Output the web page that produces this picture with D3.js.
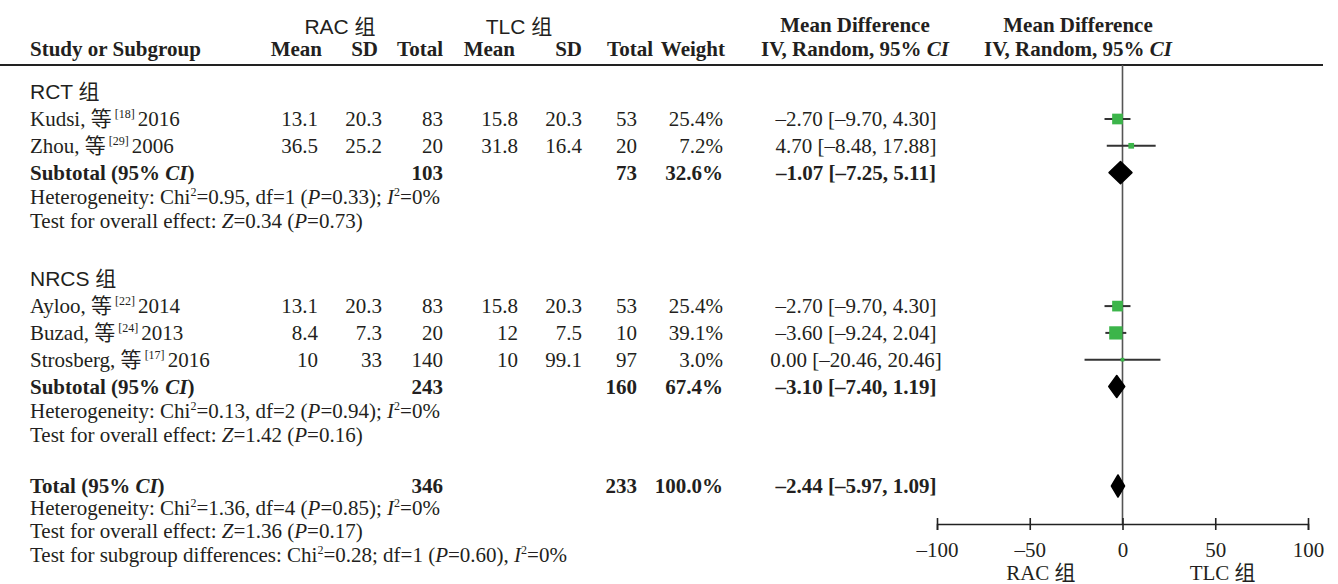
<!DOCTYPE html>
<html><head><meta charset="utf-8">
<script src="https://cdn.jsdelivr.net/npm/d3@7"></script>
<style>
html,body{margin:0;padding:0;background:#fff;}
svg{display:block;}
text{white-space:pre;}
</style></head><body>
<svg id="c" width="1338" height="584"></svg>
<script>
// ---------------- data ----------------
const groupNames   = ["RCT 组", "NRCS 组"];
const studyNames   = ["Kudsi, 等", "Zhou, 等", "Ayloo, 等", "Buzad, 等", "Strosberg, 等"];
const studyRefs    = ["[18]", "[29]", "[22]", "[24]", "[17]"];
const studyYears   = ["2016", "2006", "2014", "2013", "2016"];
const studyGroup   = [0, 0, 1, 1, 1];
const racMean      = [13.1, 36.5, 13.1, 8.4, 10];
const racSD        = [20.3, 25.2, 20.3, 7.3, 33];
const racTotal     = [83, 20, 83, 20, 140];
const tlcMean      = [15.8, 31.8, 15.8, 12, 10];
const tlcSD        = [20.3, 16.4, 20.3, 7.5, 99.1];
const tlcTotal     = [53, 20, 53, 10, 97];
const studyWeight  = [25.4, 7.2, 25.4, 39.1, 3.0];
const studyMD      = [-2.70, 4.70, -2.70, -3.60, 0.00];
const studyLow     = [-9.70, -8.48, -9.70, -9.24, -20.46];
const studyHigh    = [4.30, 17.88, 4.30, 2.04, 20.46];

const subRacTotal  = [103, 243];
const subTlcTotal  = [73, 160];
const subWeight    = [32.6, 67.4];
const subMD        = [-1.07, -3.10];
const subLow       = [-7.25, -7.40];
const subHigh      = [5.11, 1.19];
const subChi2      = ["0.95", "0.13"];
const subDf        = [1, 2];
const subHetP      = ["0.33", "0.94"];
const subI2        = [0, 0];
const subZ         = ["0.34", "1.42"];
const subZP        = ["0.73", "0.16"];

const totRacTotal  = 346;
const totTlcTotal  = 233;
const totWeight    = 100.0;
const totMD        = -2.44, totLow = -5.97, totHigh = 1.09;
const totChi2      = "1.36", totDf = 4, totHetP = "0.85", totI2 = 0;
const totZ         = "1.36", totZP = "0.17";
const diffChi2     = "0.28", diffDf = 1, diffP = "0.60", diffI2 = 0;

const axisTicks    = [-100, -50, 0, 50, 100];
const favourLabels = ["RAC 组", "TLC 组"];

// ---------------- drawing ----------------
const svg = d3.select("#c");
const SERIF = '"Liberation Serif","Times New Roman","Noto Sans CJK SC",serif';
const SANS  = '"Liberation Sans",Arial,"Noto Sans CJK SC",sans-serif';
const FS = 21;
const INK = "#231f20";

function rich(x, y, segs, opts = {}) {
  const t = svg.append("text").attr("x", x).attr("y", y)
    .attr("font-family", opts.family || SERIF)
    .attr("font-size", opts.size || FS)
    .attr("fill", INK)
    .attr("text-anchor", opts.anchor || "start")
    .attr("font-weight", opts.bold ? "bold" : "normal");
  let shifted = false;
  segs.forEach(s => {
    if (typeof s === "string") s = {t: s};
    const ts = t.append("tspan").text(s.t);
    if (s.i) ts.attr("font-style", "italic");
    if (s.sup) { ts.attr("font-size", 12).attr("dy", shifted ? 0 : -8); shifted = true; }
    else if (shifted) { ts.attr("dy", 8); shifted = false; }
  });
  return t;
}
const num = v => String(v);
const sgn = v => (v < 0 ? "–" : "") + d3.format(".2f")(Math.abs(v));
const mdText = (m, l, h) => `${sgn(m)} [${sgn(l)}, ${sgn(h)}]`;
const pct = v => d3.format(".1f")(v) + "%";

// columns
const COL = {left: 30, racMean: 318, racSD: 382, racTotal: 443, tlcMean: 518, tlcSD: 582, tlcTotal: 637, weight: 723, md: 856};

// scales
const x = d3.scaleLinear().domain([-100, 100]).range([937, 1308]);
const sz = d3.scaleSqrt().domain([0, 40]).range([0, 13.4]);
const axisY = 524, topLine = 65;

// header
rich(340, 34, ["RAC 组"], {family: SANS, anchor: "middle"});
rich(519, 34, ["TLC 组"], {family: SANS, anchor: "middle"});
rich(855, 32, ["Mean Difference"], {anchor: "middle", bold: true});
rich(1078, 32, ["Mean Difference"], {anchor: "middle", bold: true});
rich(COL.left, 56, ["Study or Subgroup"], {bold: true});
rich(322, 56, ["Mean"], {bold: true, anchor: "end"});
rich(378, 56, ["SD"], {bold: true, anchor: "end"});
rich(443, 56, ["Total"], {bold: true, anchor: "end"});
rich(515, 56, ["Mean"], {bold: true, anchor: "end"});
rich(582, 56, ["SD"], {bold: true, anchor: "end"});
rich(653, 56, ["Total"], {bold: true, anchor: "end"});
rich(725, 56, ["Weight"], {bold: true, anchor: "end"});
rich(855, 56, ["IV, Random, 95% ", {t: "CI", i: true}], {bold: true, anchor: "middle"});
rich(1078, 56, ["IV, Random, 95% ", {t: "CI", i: true}], {bold: true, anchor: "middle"});

svg.append("line").attr("x1", 0).attr("x2", 1323).attr("y1", topLine).attr("y2", topLine)
  .attr("stroke", "#222").attr("stroke-width", 2);

// zero line
svg.append("line").attr("x1", x(0)).attr("x2", x(0)).attr("y1", topLine).attr("y2", axisY)
  .attr("stroke", "#555").attr("stroke-width", 1.6);

const plot = svg.append("g");
function square(y, m, l, h, w) {
  plot.append("line").attr("x1", x(l)).attr("x2", x(h)).attr("y1", y).attr("y2", y)
    .attr("stroke", "#333").attr("stroke-width", 2);
  const s = Math.max(sz(w), 3);
  plot.append("rect").attr("x", x(m) - s / 2).attr("y", y - s / 2).attr("width", s).attr("height", s)
    .attr("fill", "#3cb54a");
}
function diamond(y, m, l, h) {
  const hh = 11;
  plot.append("path")
    .attr("d", `M${x(l)},${y}L${x(m)},${y - hh}L${x(h)},${y}L${x(m)},${y + hh}Z`)
    .attr("fill", "#000").attr("stroke", "#000").attr("stroke-width", 1.5).attr("stroke-linejoin", "round");
}

function hetLine(y, chi, df, p, i2, sep1, sep2) {
  rich(COL.left, y, ["Heterogeneity: Chi", {t: "2", sup: true}, `=${chi}${sep1} df=${df} (`, {t: "P", i: true},
    `=${p})${sep2} `, {t: "I", i: true}, {t: "2", sup: true}, `=${i2}%`]);
}
function testLine(y, z, p) {
  rich(COL.left, y, ["Test for overall effect: ", {t: "Z", i: true}, `=${z} (`, {t: "P", i: true}, `=${p})`]);
}

let y = 99;
groupNames.forEach((g, gi) => {
  rich(COL.left, y, [g], {family: SANS});
  y += 27;
  studyNames.forEach((n, i) => {
    if (studyGroup[i] !== gi) return;
    rich(COL.left, y, [n, {t: " " + studyRefs[i] + " ", sup: true}, studyYears[i]]);
    rich(COL.racMean, y, [num(racMean[i])], {anchor: "end"});
    rich(COL.racSD, y, [num(racSD[i])], {anchor: "end"});
    rich(COL.racTotal, y, [num(racTotal[i])], {anchor: "end"});
    rich(COL.tlcMean, y, [num(tlcMean[i])], {anchor: "end"});
    rich(COL.tlcSD, y, [num(tlcSD[i])], {anchor: "end"});
    rich(COL.tlcTotal, y, [num(tlcTotal[i])], {anchor: "end"});
    rich(COL.weight, y, [pct(studyWeight[i])], {anchor: "end"});
    rich(COL.md, y, [mdText(studyMD[i], studyLow[i], studyHigh[i])], {anchor: "middle"});
    square(y - 7, studyMD[i], studyLow[i], studyHigh[i], studyWeight[i]);
    y += 26.8;
  });
  rich(COL.left, y, ["Subtotal (95% ", {t: "CI", i: true}, ")"], {bold: true});
  rich(COL.racTotal, y, [num(subRacTotal[gi])], {anchor: "end", bold: true});
  rich(COL.tlcTotal, y, [num(subTlcTotal[gi])], {anchor: "end", bold: true});
  rich(COL.weight, y, [pct(subWeight[gi])], {anchor: "end", bold: true});
  rich(COL.md, y, [mdText(subMD[gi], subLow[gi], subHigh[gi])], {anchor: "middle", bold: true});
  diamond(y - 7, subMD[gi], subLow[gi], subHigh[gi]);
  y += 24.5;
  hetLine(y, subChi2[gi], subDf[gi], subHetP[gi], subI2[gi], ",", ";");
  y += 24;
  testLine(y, subZ[gi], subZP[gi]);
  y += (gi < groupNames.length - 1) ? 58 : 51;
});

// total
rich(COL.left, y, ["Total (95% ", {t: "CI", i: true}, ")"], {bold: true});
rich(COL.racTotal, y, [num(totRacTotal)], {anchor: "end", bold: true});
rich(COL.tlcTotal, y, [num(totTlcTotal)], {anchor: "end", bold: true});
rich(COL.weight, y, [pct(totWeight)], {anchor: "end", bold: true});
rich(COL.md, y, [mdText(totMD, totLow, totHigh)], {anchor: "middle", bold: true});
diamond(y - 7, totMD, totLow, totHigh);
y += 22;
hetLine(y, totChi2, totDf, totHetP, totI2, ",", ";");
y += 23;
testLine(y, totZ, totZP);
y += 24;
rich(COL.left, y, ["Test for subgroup differences: Chi", {t: "2", sup: true}, `=${diffChi2}; df=${diffDf} (`,
  {t: "P", i: true}, `=${diffP}), `, {t: "I", i: true}, {t: "2", sup: true}, `=${diffI2}%`]);

// axis
const ax = svg.append("g").attr("transform", `translate(0,${axisY})`)
  .call(d3.axisBottom(x).tickValues(axisTicks).tickSizeOuter(0).tickSize(6)
    .tickFormat(d => (d < 0 ? "–" : "") + Math.abs(d)));
ax.select(".domain").attr("stroke", "#222").attr("stroke-width", 1.6);
ax.selectAll(".tick line").attr("y1", -6).attr("y2", 6).attr("stroke", "#222").attr("stroke-width", 1.6);
ax.selectAll(".tick text").attr("y", 33).attr("dy", null)
  .attr("font-family", SERIF).attr("font-size", FS).attr("fill", INK);
rich(x(-44), 580, [favourLabels[0]], {anchor: "middle"});
rich(x(54), 580, [favourLabels[1]], {anchor: "middle"});
</script>
</body></html>
